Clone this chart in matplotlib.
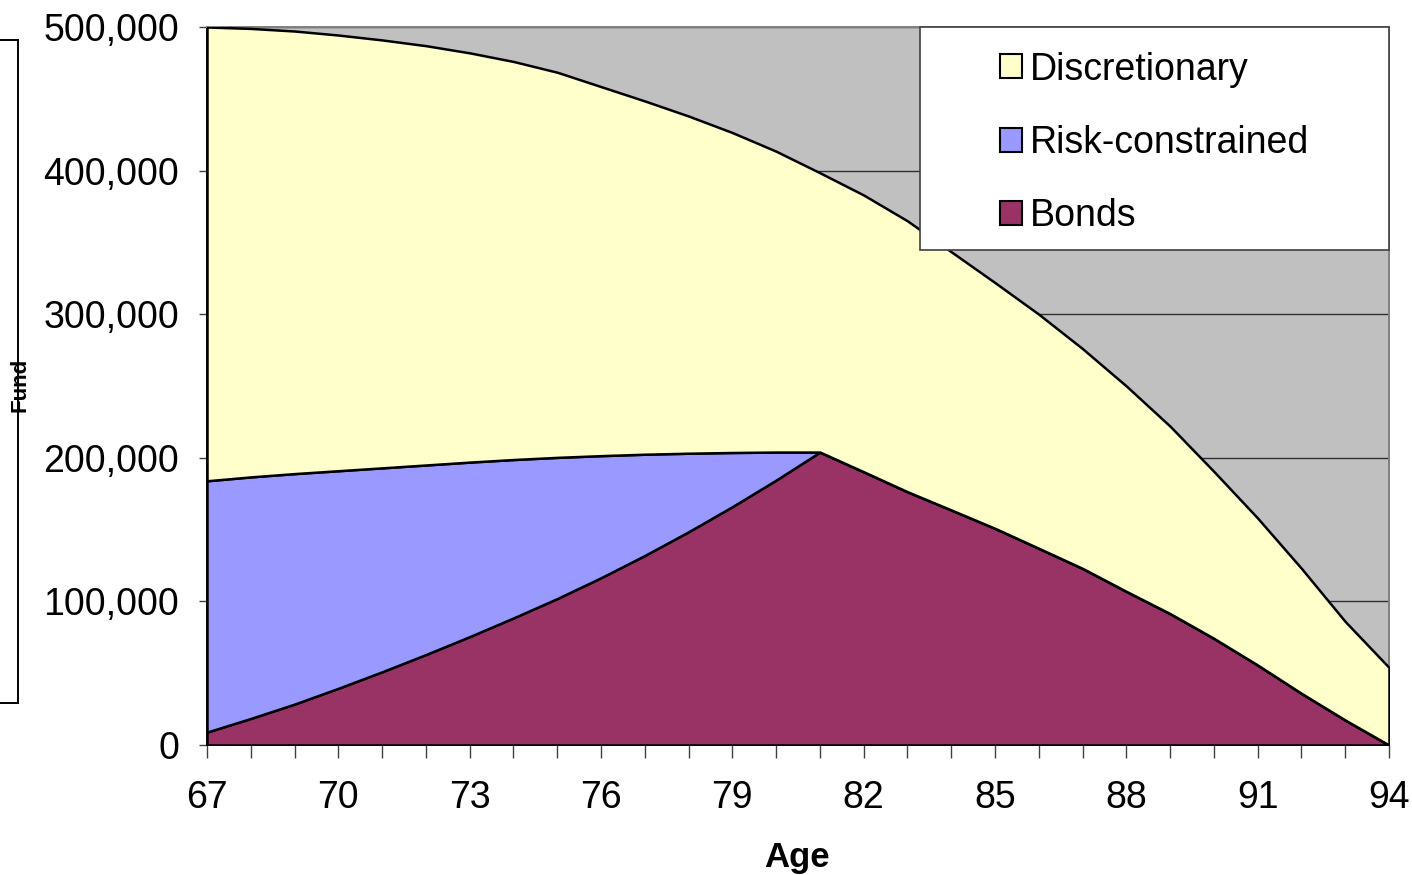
import numpy as np
import matplotlib
matplotlib.use("Agg")
import matplotlib.pyplot as plt
from matplotlib.patches import Patch, Rectangle
from matplotlib.lines import Line2D
from matplotlib.ticker import FuncFormatter, FixedLocator, MultipleLocator

plt.rcParams["font.family"] = ["Liberation Sans", "DejaVu Sans"]

# fund split by age: each series is one band of the stacked area
ages = np.arange(67, 95)
bonds = [9000, 18500, 28500, 39500, 51000, 63000, 75500, 88500, 102000, 116500,
         132000, 148500, 166000, 184500, 204000, 190300, 176400, 163700, 150900,
         137000, 123000, 107000, 91500, 74300, 55700, 36000, 17400, 0]
risk_constrained = [175000, 168200, 160500, 151500, 142000, 132000, 121500, 110300,
                    98300, 85000, 70500, 54700, 37700, 19500, 0, 0, 0, 0, 0, 0,
                    0, 0, 0, 0, 0, 0, 0, 0]
discretionary = [316000, 312300, 308200, 303400, 298000, 292000, 285000, 277200,
                 268200, 257000, 246000, 234800, 222800, 209500, 194500, 192700,
                 188600, 179800, 171100, 163000, 153000, 143000, 130500, 116200,
                 102300, 87000, 68600, 54000]
age_labels = list(range(67, 95, 3))

series_names = ["Bonds", "Risk-constrained", "Discretionary"]
series_colors = ["#993366", "#9999FF", "#FFFFCC"]

W, H = 1412, 875
fig = plt.figure(figsize=(W / 100, H / 100), dpi=100)
ax = fig.add_axes([207 / W, 1 - 745 / H, 1182 / W, 718 / H])
ax.set_facecolor("#C0C0C0")

ax.stackplot(ages, bonds, risk_constrained, discretionary, colors=series_colors,
             edgecolor="black", linewidth=1.8, zorder=3)

ax.set_xlim(67, 94)
ax.set_ylim(0, 500000)
ax.xaxis.set_major_locator(FixedLocator(age_labels))
ax.xaxis.set_minor_locator(MultipleLocator(1))
ax.yaxis.set_major_locator(MultipleLocator(100000))
ax.yaxis.set_major_formatter(FuncFormatter(lambda v, _: f"{int(v):,}"))
ax.yaxis.grid(True, color="#303030", linewidth=1.0, zorder=1)
ax.set_axisbelow(True)

ax.tick_params(axis="x", which="both", direction="out", length=9, width=1.0,
               color="#404040", labelsize=27, pad=16)
ax.tick_params(axis="y", which="major", direction="out", length=6, width=1.0,
               color="#404040", labelsize=27, pad=14)

for side in ["left", "bottom"]:
    ax.spines[side].set_color("black")
    ax.spines[side].set_linewidth(1.4)
for side in ["top", "right"]:
    ax.spines[side].set_color("#808080")
    ax.spines[side].set_linewidth(1.4)

fig.text(797 / W, 1 - 857 / H, "Age", ha="center", va="center",
         fontsize=25, fontweight="bold")

# partial frame on the left edge with the rotated axis title
for xs, ys in [([0, 18], [40, 40]), ([18, 18], [40, 703]), ([0, 18], [703, 703])]:
    fig.add_artist(Line2D([x / W for x in xs], [1 - y / H for y in ys],
                          color="black", linewidth=1.4))
fig.text(20 / W, 1 - 385 / H, "Fund", rotation=90, ha="center", va="center",
         fontsize=16, fontweight="bold")

# legend box
fig.add_artist(Rectangle((920 / W, 1 - 250 / H), (1389 - 920) / W, (250 - 27) / H,
                         transform=fig.transFigure, facecolor="white",
                         edgecolor="#404040", linewidth=1.2, zorder=5))
handles = [Patch(facecolor=c, edgecolor="black", linewidth=1.5, label=n)
           for n, c in zip(series_names, series_colors)][::-1]
leg = fig.legend(handles=handles, loc="center",
                 bbox_to_anchor=((920 + 1389) / 2 / W, 1 - 143 / H),
                 frameon=False, fontsize=27, handlelength=0.6, handleheight=0.6,
                 handletextpad=0.2, labelspacing=1.0, borderpad=0)
leg.set_zorder(6)

fig.savefig("out.png", dpi=100)
